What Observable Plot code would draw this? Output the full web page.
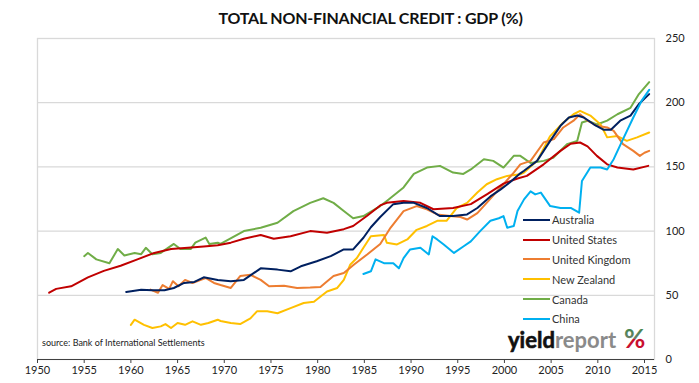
<!DOCTYPE html>
<html>
<head>
<meta charset="utf-8">
<script src="https://cdn.jsdelivr.net/npm/d3@7"></script>
<script src="https://cdn.jsdelivr.net/npm/@observablehq/plot@0.6"></script>
<style>
  body { margin: 0; background: #fff; }
  #wrap { position: relative; width: 699px; height: 383px; overflow: hidden; font-family: Lato, "Open Sans", sans-serif; }
  #title { position: absolute; left: 0; top: 8px; width: 699px; text-align: center; padding-left: 42px; box-sizing: border-box;
           font: bold 16px Lato, "Open Sans", sans-serif; color: #111; letter-spacing: -0.2px; }
  #chart { position: absolute; left: 0; top: 30px; }
  #legend { position: absolute; left: 523px; top: 210px; font: 11px Lato, "Open Sans", sans-serif; color: #333; }
  .li { height: 19.8px; display: flex; align-items: center; }
  .sw { width: 27px; height: 2px; margin-right: 2px; }
  #source { position: absolute; left: 42px; top: 337px; font: 9px Lato, "Open Sans", sans-serif; color: #222; }
  #logo { position: absolute; left: 500px; top: 322px; }
</style>
</head>
<body>
<div id="wrap">
  <div id="title">TOTAL NON-FINANCIAL CREDIT : GDP (%)</div>
  <div id="chart"></div>
  <div id="legend"></div>
  <div id="source">source: Bank of International Settlements</div>
  <svg id="logo" width="160" height="40">
    <defs>
      <linearGradient id="pct" x1="0" y1="0" x2="0" y2="1">
        <stop offset="0" stop-color="#2e8b3a"/>
        <stop offset="0.52" stop-color="#6b7f6b"/>
        <stop offset="0.52" stop-color="#c8102e"/>
        <stop offset="1" stop-color="#c8102e"/>
      </linearGradient>
    </defs>
    <text x="8" y="26" style="font: bold 22px Lato, 'Open Sans', sans-serif; letter-spacing:0px"><tspan fill="#111" stroke="#111" stroke-width="0.6">yield</tspan><tspan fill="#8a8a8a">report</tspan><tspan fill="url(#pct)" dx="8" style="font-size:26px">%</tspan></text>
  </svg>
</div>
<script>
const seriesNames = ["Australia", "United States", "United Kingdom", "New Zealand", "Canada", "China"];
const seriesColors = ["#002060", "#C00000", "#ED7D31", "#FFC000", "#70AD47", "#00B0F0"];
const xTicks = [1950, 1955, 1960, 1965, 1970, 1975, 1980, 1985, 1990, 1995, 2000, 2005, 2010, 2015];
const yTicks = [0, 50, 100, 150, 200, 250];
const gridValues = [50, 100, 150, 200];

const australia = [[1959.5,52.6],[1961.1,54.4],[1962.3,54],[1963.6,54],[1964.6,55.7],[1965.7,59.6],[1966.8,60.4],[1967.8,64],[1969.3,62],[1970.7,61],[1972.1,62],[1973.9,71],[1975.7,70],[1977.1,68.7],[1978.2,72.6],[1979.9,76.5],[1981.4,80.5],[1982.8,85.7],[1983.8,85.7],[1984.9,94.8],[1985.7,103],[1986.7,111],[1988.1,121],[1989.2,122],[1990.3,122],[1991.7,118],[1993.1,111.7],[1994.5,111.7],[1996,113],[1997.1,118],[1998.5,127],[1999.6,132.5],[2000.6,138],[2001.7,145],[2002.1,147],[2003.5,154.7],[2004.9,170.3],[2006,182],[2006.9,188.5],[2007.8,190],[2008.5,188.5],[2009.6,183],[2010.6,179],[2011.4,179],[2012.4,186],[2013.5,190],[2014.4,199],[2015.5,206.7]];
const unitedStates = [[1951.25,52],[1952,55],[1953.6,57],[1955.4,64],[1957.1,69],[1958.9,73],[1960.7,78],[1962.5,83],[1964.3,86],[1966.1,87],[1967.8,88],[1969.3,89],[1970.7,91],[1972.1,94],[1973.9,97],[1975.3,94],[1977.1,96],[1979.2,100],[1981,98.7],[1982.8,101.5],[1983.8,104],[1985.3,112],[1986.7,120],[1987.4,122],[1989.2,123.5],[1991,122],[1992.4,117],[1994.5,118],[1996.4,121],[1998.2,129],[1999.9,137],[2001.4,141],[2002.4,143],[2004.2,152],[2006,162.5],[2007.1,168],[2008.1,169],[2008.9,166],[2009.9,158.6],[2011,152],[2012.1,149.5],[2013.8,148],[2015.4,150.8]];
const unitedKingdom = [[1962.1,54.4],[1962.9,52],[1963.4,58],[1964.1,55],[1964.5,61],[1965.1,57],[1965.8,62],[1966.6,59.6],[1967.5,62],[1968,63.5],[1968.9,59.6],[1969.6,58],[1970.7,55.7],[1971.7,65],[1972.8,66],[1973.9,62],[1974.8,57],[1976.4,57.5],[1977.8,55.7],[1979.2,56],[1980.3,56.5],[1980.8,59.6],[1981.7,65],[1982.8,67.4],[1983.9,74],[1985.3,81.8],[1986.7,90],[1987.8,102.6],[1989.2,115.6],[1990.6,119.5],[1991.7,117],[1992.8,113],[1994.2,111.7],[1995.3,111],[1996,109],[1997.1,114],[1998.1,122],[1999.2,131],[1999.9,136.5],[2001,145.6],[2001.7,152],[2002.8,154.7],[2004.2,169],[2005.3,171.6],[2006.3,180.7],[2007.4,186],[2008.1,191],[2008.9,186],[2009.9,182],[2011,180.7],[2011.7,178],[2012.7,167.7],[2013.8,162.5],[2014.5,158.6],[2015,161],[2015.5,162.5]];
const newZealand = [[1960,27],[1960.4,31],[1961.4,27],[1962.3,24.5],[1963.2,25.8],[1963.7,27.6],[1964.3,24.5],[1965,28.4],[1965.8,27],[1966.6,29.7],[1967.5,27],[1968.3,28.4],[1969.3,31],[1969.6,30],[1970.7,28.4],[1971.7,27.6],[1972.8,32],[1973.5,37.5],[1974.6,37.5],[1975.7,36],[1977.1,40],[1978.5,44],[1979.6,45],[1981,53],[1982.1,55.7],[1982.8,62],[1983.5,74],[1984.2,79],[1984.9,87],[1985.7,96],[1987.1,97],[1987.4,91],[1988.5,89.6],[1989.6,93.5],[1990.6,101],[1991.7,104],[1992.8,108],[1993.8,108],[1994.9,118],[1996,122],[1997.1,130],[1998.1,136.5],[1999.2,140.4],[2000.3,143],[2001.7,144.3],[2002.1,145.6],[2003.5,154.7],[2004.9,174],[2006.3,184.6],[2007.4,191],[2008.1,193.7],[2009.2,190],[2010.3,183],[2011,173],[2012.1,174],[2013.1,170.3],[2014.2,173],[2015.5,176.8]];
const canada = [[1955,80.5],[1955.4,83],[1956.3,78],[1957.7,75],[1958.6,86],[1959.3,81],[1960.4,83],[1961.1,82],[1961.6,87],[1962.3,82],[1963.2,83],[1964.6,90],[1965.3,86],[1966.4,86],[1966.9,91],[1968,95],[1968.4,90],[1969.3,91],[1969.6,90],[1972.1,100],[1973.9,102.6],[1975.7,106.5],[1977.4,115.6],[1979.2,122],[1980.6,125.6],[1981.7,122],[1982.8,115.6],[1983.8,110],[1984.9,111.7],[1986.7,119.5],[1987.4,123.5],[1989.2,134],[1990.3,144.5],[1991.7,149.5],[1993.1,150.8],[1994.5,145.6],[1995.6,144.5],[1996.4,148],[1997.8,156],[1998.8,154.7],[1999.9,149.5],[2001,158.6],[2001.7,158.6],[2002.8,153],[2004.2,154.7],[2005.2,157],[2006.7,167.7],[2007.8,170.3],[2008.3,184.6],[2008.9,186],[2009.9,183],[2011,186],[2012.1,191],[2013.5,196],[2014.4,206.7],[2015.5,216]];
const china = [[1984.9,66.6],[1985.7,68.7],[1986.2,78],[1987.1,75],[1988.1,75],[1988.7,71],[1989.2,79],[1989.9,85.7],[1991,87],[1991.9,81.8],[1992.3,96],[1992.8,93.5],[1993.5,89.6],[1994.6,83],[1995.6,88],[1996.4,92],[1997.4,100],[1998.5,108],[1999.4,110],[1999.9,111.7],[2000.3,102.6],[2001,104],[2001.4,115.6],[2002.1,124.7],[2002.8,131],[2003.3,128.6],[2003.9,130],[2004.9,119.5],[2006,118],[2007.1,118],[2008,114.3],[2008.3,139],[2009.2,149.5],[2010.3,149.5],[2011,148],[2011.7,156],[2012.7,171.6],[2013.8,188.5],[2014.7,201.6],[2015.5,210]];

const seriesData = [australia, unitedStates, unitedKingdom, newZealand, canada, china];
const rows = seriesData.flatMap((s, i) => s.map(([year, value]) => ({series: seriesNames[i], year, value})));
const drawOrder = ["Canada", "New Zealand", "United Kingdom", "United States", "Australia", "China"];

const chart = Plot.plot({
  width: 699,
  height: 353,
  marginTop: 8,
  marginBottom: 24,
  marginLeft: 37,
  marginRight: 45,
  style: {fontFamily: "Lato, 'Open Sans', sans-serif", fontSize: "11px", color: "#222", background: "transparent"},
  x: {domain: [1950, 2016.07]},
  y: {domain: [0, 250]},
  color: {domain: seriesNames, range: seriesColors},
  marks: [
    Plot.gridY(gridValues, {stroke: "#d9d9d9", strokeOpacity: 1, strokeWidth: 1.3}),
    Plot.frame({stroke: "#d9d9d9", strokeWidth: 1.3}),
    ...drawOrder.map(name => Plot.line(rows.filter(d => d.series === name), {
      x: "year", y: "value", stroke: "series", strokeWidth: 2, curve: "linear"
    })),
    Plot.ruleY([0], {stroke: "#404040", strokeWidth: 1.2}),
    Plot.axisX(xTicks, {anchor: "bottom", tickSize: 4, tickPadding: 3, tickFormat: d => String(d), label: null, stroke: "#404040", fontSize: 11}),
    Plot.axisY(yTicks, {anchor: "right", tickSize: 0, tickPadding: 11, label: null, fontSize: 11})
  ]
});
document.getElementById("chart").appendChild(chart);

const legend = document.getElementById("legend");
seriesNames.forEach((name, i) => {
  const row = document.createElement("div");
  row.className = "li";
  const sw = document.createElement("span");
  sw.className = "sw";
  sw.style.background = seriesColors[i];
  const lab = document.createElement("span");
  lab.textContent = name;
  row.appendChild(sw);
  row.appendChild(lab);
  legend.appendChild(row);
});
</script>
</body>
</html>
